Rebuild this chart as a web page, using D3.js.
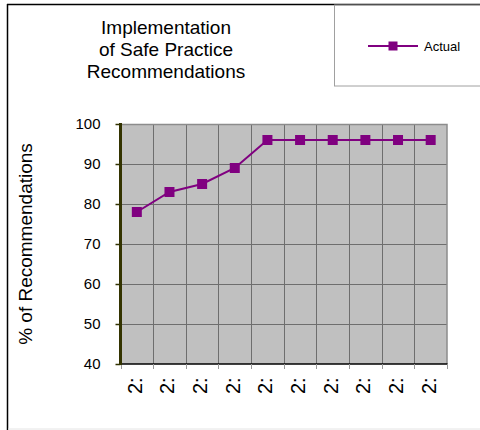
<!DOCTYPE html>
<html>
<head>
<meta charset="utf-8">
<script src="https://cdn.jsdelivr.net/npm/d3@7"></script>
<style>
  html, body { margin: 0; padding: 0; background: #fff; }
  svg { display: block; font-family: "Liberation Sans", Arial, sans-serif; }
</style>
</head>
<body>
<svg id="chart" width="480" height="430"></svg>
<script>
const categories = ["2:", "2:", "2:", "2:", "2:", "2:", "2:", "2:", "2:", "2:"];
const actual = [78, 83, 85, 89, 96, 96, 96, 96, 96, 96];
const yTicks = [40, 50, 60, 70, 80, 90, 100];
const titleLines = ["Implementation", "of Safe Practice", "Recommendations"];
const seriesName = "Actual";
const yLabel = "% of Recommendations";

const svg = d3.select("#chart");
const plot = { left: 120.5, top: 124, right: 447, bottom: 364 };
const purple = "#800080";

// outer frame
svg.append("line").attr("x1", 7.5).attr("x2", 7.5).attr("y1", 4).attr("y2", 430)
  .attr("stroke", "#000").attr("stroke-width", 1.5);
svg.append("line").attr("x1", 7).attr("x2", 480).attr("y1", 4.5).attr("y2", 4.5)
  .attr("stroke", "#000").attr("stroke-width", 1.5);
svg.append("line").attr("x1", 8).attr("x2", 480).attr("y1", 429).attr("y2", 429)
  .attr("stroke", "#e4e4e4").attr("stroke-width", 1);

// legend box
svg.append("rect").attr("x", 334.5).attr("y", 5).attr("width", 160).attr("height", 81)
  .attr("fill", "none").attr("stroke", "#a0a0a0").attr("stroke-width", 1);

const x = d3.scaleBand().domain(d3.range(categories.length))
  .range([plot.left, plot.right]).padding(0);
const y = d3.scaleLinear().domain([40, 100]).range([plot.bottom, plot.top]);

// plot background
svg.append("rect").attr("x", plot.left).attr("y", plot.top)
  .attr("width", plot.right - plot.left).attr("height", plot.bottom - plot.top)
  .attr("fill", "#c0c0c0");

// horizontal gridlines
svg.append("g").selectAll("line").data(yTicks.filter(t => t > 40 && t < 100)).join("line")
  .attr("x1", plot.left).attr("x2", plot.right)
  .attr("y1", d => Math.round(y(d)) + 0.5).attr("y2", d => Math.round(y(d)) + 0.5)
  .attr("stroke", "#6e6e6e").attr("stroke-width", 1);

// vertical gridlines
svg.append("g").selectAll("line").data(d3.range(1, categories.length)).join("line")
  .attr("x1", d => Math.round(x(d)) + 0.5).attr("x2", d => Math.round(x(d)) + 0.5)
  .attr("y1", plot.top).attr("y2", plot.bottom)
  .attr("stroke", "#6e6e6e").attr("stroke-width", 1);

// plot border top/right
svg.append("path")
  .attr("d", `M${plot.left},${plot.top + 0.5}H${plot.right}V${plot.bottom}`)
  .attr("fill", "none").attr("stroke", "#8c8c8c").attr("stroke-width", 1.5);

// x axis
const xAxisG = svg.append("g").attr("transform", `translate(0,${plot.bottom})`);
xAxisG.append("line").attr("x1", plot.left - 1).attr("x2", plot.right + 0.5)
  .attr("y1", 0).attr("y2", 0).attr("stroke", "#000").attr("stroke-width", 1.5);
xAxisG.selectAll("line.tick").data(d3.range(0, categories.length + 1)).join("line")
  .attr("class", "tick")
  .attr("x1", d => Math.round(d === categories.length ? plot.right : x(d)) + 0.5)
  .attr("x2", d => Math.round(d === categories.length ? plot.right : x(d)) + 0.5)
  .attr("y1", 0).attr("y2", 5).attr("stroke", "#999").attr("stroke-width", 1);
xAxisG.selectAll("text").data(categories).join("text")
  .attr("transform", (d, i) => `translate(${x(i) + x.bandwidth() / 2 + 5},30) rotate(-90)`)
  .attr("text-anchor", "start")
  .attr("font-size", 20).attr("fill", "#000")
  .text(d => d);

// y axis
const yAxis = d3.axisLeft(y).tickValues(yTicks).tickSize(5).tickPadding(15);
const yAxisG = svg.append("g").attr("transform", `translate(${plot.left},0)`).call(yAxis);
yAxisG.select(".domain").remove();
yAxisG.selectAll(".tick line").attr("stroke", "#333300").attr("stroke-width", 1.5);
yAxisG.selectAll(".tick text").attr("font-size", 15).attr("fill", "#000")
  .attr("font-family", "Liberation Sans, Arial, sans-serif");
svg.append("line").attr("x1", plot.left).attr("x2", plot.left)
  .attr("y1", plot.top - 1).attr("y2", plot.bottom + 1)
  .attr("stroke", "#333300").attr("stroke-width", 3);

// series line
const line = d3.line().x((d, i) => x(i) + x.bandwidth() / 2).y(d => y(d));
svg.append("path").datum(actual).attr("d", line)
  .attr("fill", "none").attr("stroke", purple).attr("stroke-width", 2);
const ms = 10;
svg.append("g").selectAll("rect").data(actual).join("rect")
  .attr("x", (d, i) => x(i) + x.bandwidth() / 2 - ms / 2)
  .attr("y", d => y(d) - ms / 2)
  .attr("width", ms).attr("height", ms)
  .attr("fill", purple);

// title
svg.append("text").attr("x", 166).attr("y", 34).attr("text-anchor", "middle")
  .attr("font-size", 19).attr("fill", "#000")
  .selectAll("tspan").data(titleLines).join("tspan")
  .attr("x", 166).attr("dy", (d, i) => i === 0 ? 0 : 22).text(d => d);

// y label
svg.append("text")
  .attr("transform", `translate(32,${(plot.top + plot.bottom) / 2}) rotate(-90)`)
  .attr("text-anchor", "middle").attr("font-size", 19).attr("fill", "#000")
  .text(yLabel);

// legend
svg.append("line").attr("x1", 368).attr("x2", 418).attr("y1", 46).attr("y2", 46)
  .attr("stroke", purple).attr("stroke-width", 2);
svg.append("rect").attr("x", 393 - 4.5).attr("y", 46 - 4.5).attr("width", 9).attr("height", 9)
  .attr("fill", purple);
svg.append("text").attr("x", 424).attr("y", 50.5).attr("font-size", 13).attr("fill", "#000")
  .text(seriesName);
</script>
</body>
</html>
